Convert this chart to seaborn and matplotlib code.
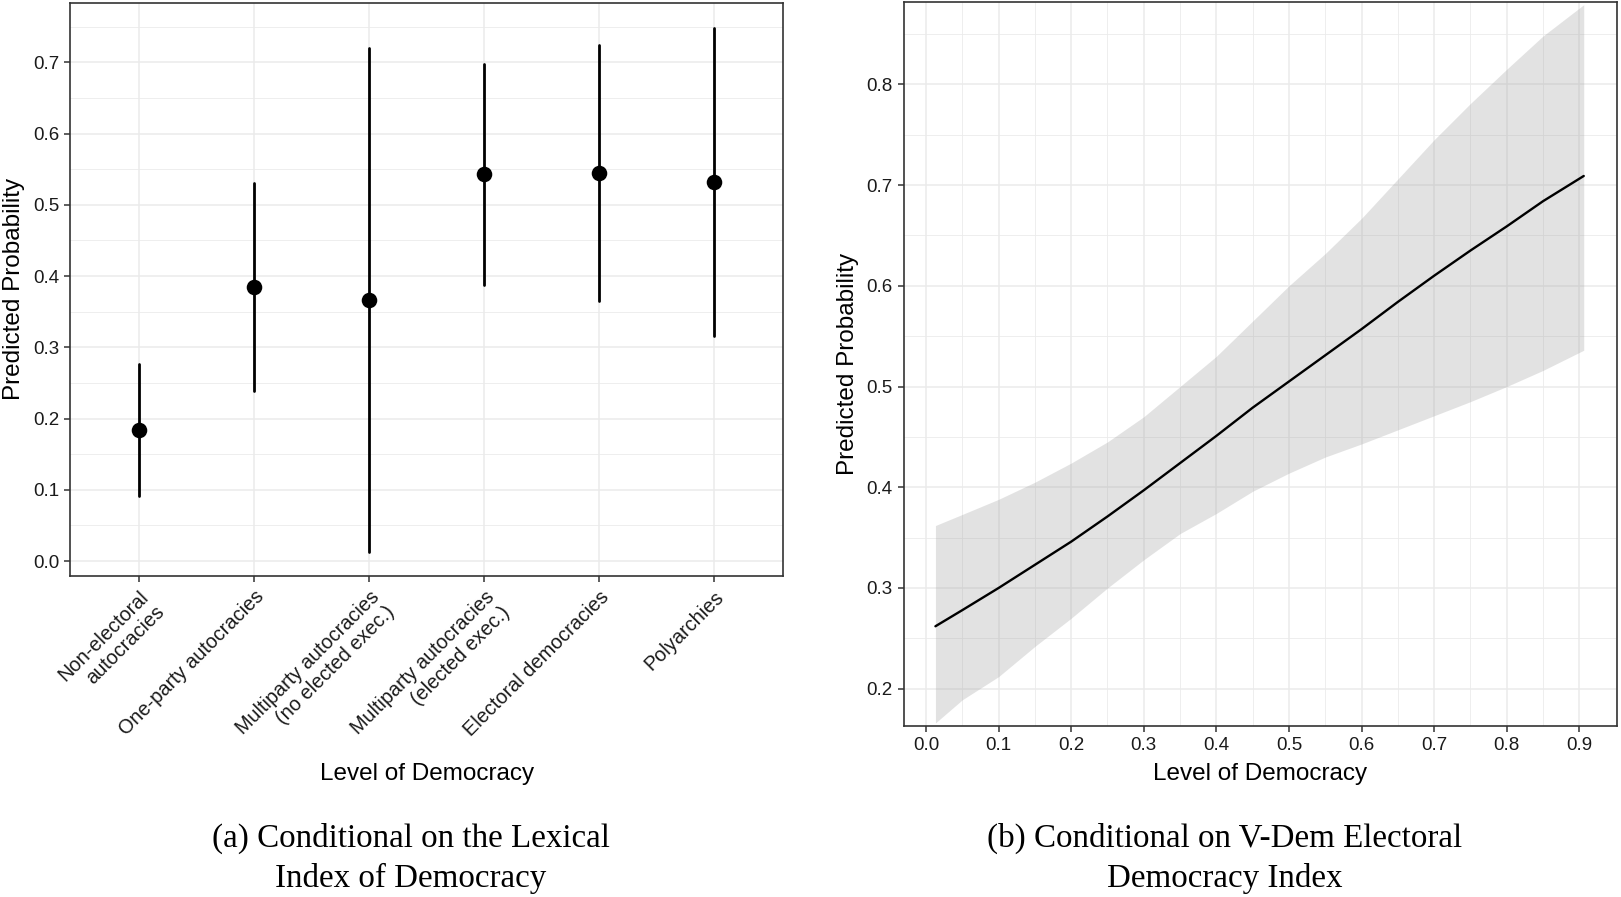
import numpy as np
import pandas as pd
import matplotlib
matplotlib.use("Agg")
import matplotlib.pyplot as plt
import seaborn as sns
from matplotlib.ticker import MultipleLocator

# ---------------- data ----------------
regimes = [
    "Non-electoral\nautocracies",
    "One-party autocracies",
    "Multiparty autocracies\n(no elected exec.)",
    "Multiparty autocracies\n(elected exec.)",
    "Electoral democracies",
    "Polyarchies",
]
lexical_est = [0.184, 0.384, 0.366, 0.543, 0.545, 0.532]
lexical_lo = [0.091, 0.239, 0.013, 0.387, 0.365, 0.316]
lexical_hi = [0.277, 0.530, 0.720, 0.698, 0.724, 0.748]

vdem_x = [0.013, 0.05, 0.10, 0.15, 0.20, 0.25, 0.30, 0.35, 0.40, 0.45,
          0.50, 0.55, 0.60, 0.65, 0.70, 0.75, 0.80, 0.85, 0.906]
vdem_est = [0.262, 0.278, 0.300, 0.323, 0.346, 0.371, 0.397, 0.424, 0.451, 0.479,
            0.505, 0.531, 0.557, 0.584, 0.610, 0.635, 0.659, 0.684, 0.709]
vdem_lo = [0.166, 0.189, 0.212, 0.242, 0.270, 0.300, 0.328, 0.354, 0.374, 0.396,
           0.414, 0.430, 0.443, 0.457, 0.471, 0.485, 0.500, 0.516, 0.536]
vdem_hi = [0.362, 0.373, 0.388, 0.405, 0.424, 0.445, 0.470, 0.500, 0.530, 0.565,
           0.600, 0.632, 0.667, 0.706, 0.745, 0.781, 0.815, 0.848, 0.879]

y_ticks_a = [0.0, 0.1, 0.2, 0.3, 0.4, 0.5, 0.6, 0.7]
y_ticks_b = [0.2, 0.3, 0.4, 0.5, 0.6, 0.7, 0.8]
x_ticks_b = [0.0, 0.1, 0.2, 0.3, 0.4, 0.5, 0.6, 0.7, 0.8, 0.9]

# ---------------- style ----------------
sns.set_style("white")
plt.rcParams["font.family"] = ["Liberation Sans", "DejaVu Sans"]

W, H = 1621, 897
fig = plt.figure(figsize=(W / 100, H / 100), dpi=100)


def px_axes(l, t, r, b):
    return fig.add_axes([l / W, 1 - b / H, (r - l) / W, (b - t) / H])


ax1 = px_axes(70.3, 2.7, 783.3, 576.0)
ax2 = px_axes(903.7, 2.4, 1616.7, 726.0)

GRID = "#EBEBEB"
SPINE = "#333333"
TICKFS = 13.5
XCATFS = 14.3
LABFS = 17.5

# ---------------- panel (a) ----------------
long_rows = []
for r, lo, est, hi in zip(regimes, lexical_lo, lexical_est, lexical_hi):
    for v in (lo, est, hi):
        long_rows.append({"regime": r, "prob": v})
df_a = pd.DataFrame(long_rows)

sns.pointplot(data=df_a, x="regime", y="prob", order=regimes,
              estimator="median", errorbar=("pi", 100),
              color="black", linestyle="none", marker="o",
              markersize=11.2, markeredgewidth=0,
              err_kws={"linewidth": 2.0}, ax=ax1)

ax1.set_xlim(-0.6, 5.6)
ax1.set_ylim(-0.021, 0.7836)
ax1.set_yticks(y_ticks_a)
ax1.set_yticklabels([f"{v:.1f}" for v in y_ticks_a])
ax1.yaxis.set_minor_locator(MultipleLocator(0.05))
ax1.set_xticks(range(len(regimes)))
ax1.set_xticklabels(regimes, rotation=45, ha="right", va="top",
                    rotation_mode="anchor", fontsize=XCATFS, color="#1A1A1A")
ax1.set_xlabel("Level of Democracy", fontsize=LABFS, color="black")
ax1.set_ylabel("Predicted Probability", fontsize=LABFS, color="black", labelpad=5.5)
ax1.xaxis.set_label_coords(0.5, -0.3267)

# ---------------- panel (b) ----------------
df_b = pd.DataFrame({"x": vdem_x, "est": vdem_est, "lo": vdem_lo, "hi": vdem_hi})
ax2.fill_between(df_b["x"], df_b["lo"], df_b["hi"], color="#999999",
                 alpha=0.28, linewidth=0, zorder=2)
sns.lineplot(data=df_b, x="x", y="est", color="black", linewidth=1.7,
             ax=ax2, zorder=3)
ax2.set_xlim(-0.0307, 0.9514)
ax2.set_ylim(0.163, 0.8813)
ax2.set_xticks(x_ticks_b)
ax2.set_xticklabels([f"{v:.1f}" for v in x_ticks_b])
ax2.set_yticks(y_ticks_b)
ax2.set_yticklabels([f"{v:.1f}" for v in y_ticks_b])
ax2.xaxis.set_minor_locator(MultipleLocator(0.05))
ax2.yaxis.set_minor_locator(MultipleLocator(0.05))
ax2.set_xlabel("Level of Democracy", fontsize=LABFS, color="black")
ax2.set_ylabel("Predicted Probability", fontsize=LABFS, color="black", labelpad=5.5)
ax2.xaxis.set_label_coords(0.5, -0.0515)

# ---------------- common styling ----------------
for ax in (ax1, ax2):
    ax.set_axisbelow(True)
    ax.grid(True, which="major", color=GRID, linewidth=1.1)
    ax.grid(True, which="minor", color=GRID, linewidth=0.6)
    if ax is ax1:
        ax.xaxis.grid(True, which="major", color=GRID, linewidth=1.1)
    for s in ax.spines.values():
        s.set_visible(True)
        s.set_color(SPINE)
        s.set_linewidth(1.2)
    ax.tick_params(which="major", direction="out", length=4.5, width=1.1,
                   color=SPINE, labelsize=TICKFS, labelcolor="#1A1A1A", pad=3.5)
    ax.tick_params(which="minor", length=0)
    ax.tick_params(axis="both", which="both", bottom=True, left=True,
                   top=False, right=False)
for lab in ax1.get_xticklabels():
    lab.set_fontsize(XCATFS)

# ---------------- captions ----------------
cap_kw = dict(ha="center", va="baseline", fontsize=23.8,
              family=["Liberation Serif", "DejaVu Serif"], color="black")
fig.text(411 / W, 1 - 846.7 / H, "(a) Conditional on the Lexical", **cap_kw)
fig.text(411 / W, 1 - 886.7 / H, "Index of Democracy", **cap_kw)
fig.text(1225 / W, 1 - 846.7 / H, "(b) Conditional on V-Dem Electoral", **cap_kw)
fig.text(1225 / W, 1 - 886.7 / H, "Democracy Index", **cap_kw)

fig.savefig("out.png", dpi=100)
